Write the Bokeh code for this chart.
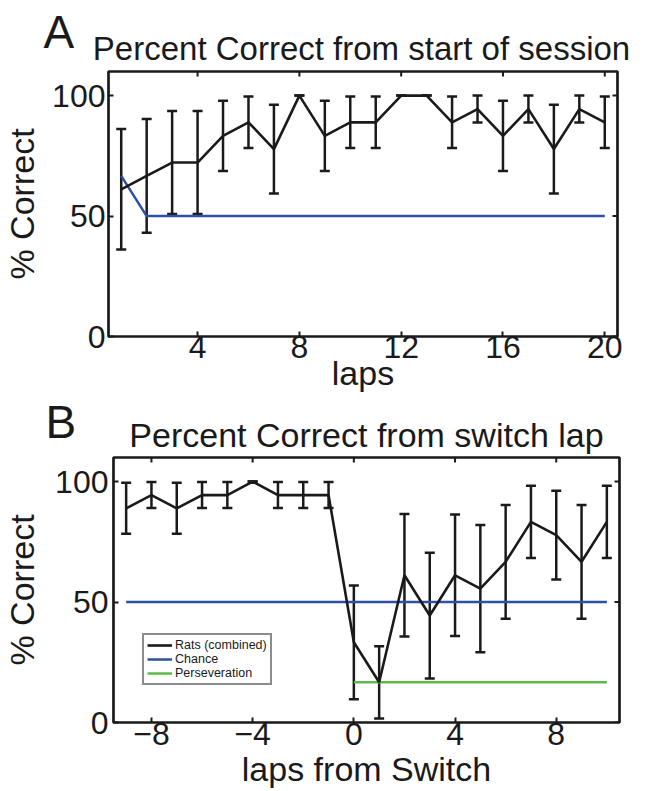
import math
from bokeh.plotting import figure
from bokeh.models import (ColumnDataSource, Whisker, TeeHead, FixedTicker,
                          Range1d, Legend, LegendItem)
from bokeh.core.properties import value
from bokeh.layouts import column
from bokeh.embed import file_html
from bokeh.resources import INLINE

FONT = "Liberation Sans"
INK = "#1a1a1a"

# ---------------- Panel A data ----------------
title_a = "Percent Correct from start of session"
laps_a = [1, 2, 3, 4, 5, 6, 7, 8, 9, 10, 11, 12, 13, 14, 15, 16, 17, 18, 19, 20]
pct_a = [61.1, 66.7, 72.2, 72.2, 83.3, 88.9, 77.8, 100.0, 83.3, 88.9,
         88.9, 100.0, 100.0, 88.9, 94.4, 83.3, 94.4, 77.8, 94.4, 88.9]
sem_a = [25.0, 23.6, 21.4, 21.4, 14.6, 10.7, 18.4, 0.0, 14.6, 10.7,
         10.7, 0.0, 0.0, 10.7, 5.6, 14.6, 5.6, 18.4, 5.6, 10.7]
chance_a = [66.7, 50, 50, 50, 50, 50, 50, 50, 50, 50,
            50, 50, 50, 50, 50, 50, 50, 50, 50, 50]
xticks_a = [4, 8, 12, 16, 20]
yticks = [0, 50, 100]

# ---------------- Panel B data ----------------
title_b = "Percent Correct from switch lap"
laps_b = [-9, -8, -7, -6, -5, -4, -3, -2, -1, 0, 1, 2, 3, 4, 5, 6, 7, 8, 9, 10]
pct_b = [88.9, 94.4, 88.9, 94.4, 94.4, 100.0, 94.4, 94.4, 94.4, 33.3,
         16.7, 61.1, 44.4, 61.1, 55.6, 66.7, 83.3, 77.8, 66.7, 83.3]
sem_b = [10.6, 5.4, 10.6, 5.4, 5.4, 0.0, 5.4, 5.4, 5.4, 23.6,
         15.0, 25.4, 26.1, 25.2, 26.4, 23.6, 15.0, 18.4, 23.6, 15.0]
chance_b = [50, 50, 50, 50, 50, 50, 50, 50, 50, 50,
            50, 50, 50, 50, 50, 50, 50, 50, 50, 50]
persev_x = [0, 1, 2, 3, 4, 5, 6, 7, 8, 9, 10]
persev_b = [16.7, 16.7, 16.7, 16.7, 16.7, 16.7, 16.7, 16.7, 16.7, 16.7, 16.7]
xticks_b = [-8, -4, 0, 4, 8]
xtick_labels_b = ["\u22128", "\u22124", "0", "4", "8"]
legend_labels = ["Rats (combined)", "Chance", "Perseveration"]

BLUE = "#2E4FA8"
GREEN = "#5CBB48"


def header(height, letter, letter_x, letter_y, title, title_x, title_y, title_size):
    h = figure(frame_width=636, frame_height=height, x_range=Range1d(0, 636),
               y_range=Range1d(0, height), output_backend="svg", toolbar_location=None,
               min_border=0, x_axis_location=None, y_axis_location=None, title=None,
               frame_align=False)
    h.outline_line_color = None
    h.grid.visible = False
    h.text(x=[letter_x], y=[letter_y], text=[letter], text_font=value(FONT),
           text_font_size="46px", text_color=INK, text_baseline="alphabetic", text_align="left")
    h.text(x=[title_x], y=[title_y], text=[title], text_font=value(FONT),
           text_font_size=title_size, text_color=INK, text_baseline="alphabetic",
           text_align="center")
    return h


def panel(xr, xticks, xlabel, frame_w, mb_left, mb_right, mb_bottom, ylab_standoff,
          tick_standoff_y, tick_standoff_x, xlab_standoff, xlabels=None):
    p = figure(frame_width=frame_w, frame_height=265, x_range=Range1d(*xr), y_range=Range1d(0, 110),
               output_backend="svg", toolbar_location=None, title=None, frame_align=False,
               min_border_left=mb_left, min_border_right=mb_right,
               min_border_top=3, min_border_bottom=mb_bottom)
    p.grid.visible = False
    p.outline_line_color = INK
    p.outline_line_width = 2.7

    for ax in p.xaxis:
        ax.ticker = FixedTicker(ticks=xticks)
        if xlabels is not None:
            ax.major_label_overrides = {t: l for t, l in zip(xticks, xlabels)}
        ax.axis_label = xlabel
        ax.major_label_standoff = tick_standoff_x
        ax.axis_label_standoff = xlab_standoff
    for ax in p.yaxis:
        ax.ticker = FixedTicker(ticks=yticks)
        ax.axis_label = "% Correct"
        ax.axis_label_standoff = ylab_standoff
        ax.major_label_standoff = tick_standoff_y
    for ax in list(p.xaxis) + list(p.yaxis):
        ax.axis_line_color = None
        ax.major_tick_in = 5
        ax.major_tick_out = 0
        ax.major_tick_line_width = 2
        ax.major_tick_line_color = INK
        ax.minor_tick_line_color = None
        ax.major_label_text_font = FONT
        ax.major_label_text_font_size = "32px"
        ax.major_label_text_color = INK
        ax.axis_label_text_font = FONT
        ax.axis_label_text_font_size = "34px"
        ax.axis_label_text_font_style = "normal"
        ax.axis_label_text_color = INK

    # mirrored inward ticks on the top and right edges (MATLAB box)
    top_y = p.y_range.end
    right_x = p.x_range.end
    p.ray(x=xticks, y=[top_y] * len(xticks), length=5, length_units="screen",
          angle=-math.pi / 2, line_color=INK, line_width=2)
    p.ray(x=[right_x] * len(yticks), y=yticks, length=5, length_units="screen",
          angle=math.pi, line_color=INK, line_width=2)
    return p


def add_errorbars(p, xs, ys, es):
    src = ColumnDataSource(dict(x=xs, upper=[y + e for y, e in zip(ys, es)],
                                lower=[y - e for y, e in zip(ys, es)]))
    w = Whisker(base="x", upper="upper", lower="lower", source=src,
                line_color=INK, line_width=2.5,
                upper_head=TeeHead(size=10, line_color=INK, line_width=2.5),
                lower_head=TeeHead(size=10, line_color=INK, line_width=2.5))
    p.add_layout(w)


# ---------------- Panel A ----------------
hA = header(68, "A", 43, 37, title_a, 361, 20, "33px")
pA = panel((0.5, 20.5), xticks_a, "laps", frame_w=509, mb_left=104, mb_right=23, mb_bottom=57,
           ylab_standoff=8, tick_standoff_y=3, tick_standoff_x=-1, xlab_standoff=-7)
pA.line(laps_a, chance_a, line_color=BLUE, line_width=2.5)
add_errorbars(pA, laps_a, pct_a, sem_a)
pA.line(laps_a, pct_a, line_color=INK, line_width=2.6)

# ---------------- Panel B ----------------
hB = header(60, "B", 45, 33, title_b, 366, 20, "34px")
pB = panel((-9.5, 10.5), xticks_b, "laps from Switch", frame_w=506, mb_left=109, mb_right=21,
           mb_bottom=66, ylab_standoff=11, tick_standoff_y=5, tick_standoff_x=0, xlab_standoff=2,
           xlabels=xtick_labels_b)
r_chance = pB.line(laps_b, chance_b, line_color=BLUE, line_width=2.5)
r_pers = pB.line(persev_x, persev_b, line_color=GREEN, line_width=2.5)
add_errorbars(pB, laps_b, pct_b, sem_b)
r_rats = pB.line(laps_b, pct_b, line_color=INK, line_width=2.6)

legend = Legend(items=[LegendItem(label=legend_labels[0], renderers=[r_rats]),
                       LegendItem(label=legend_labels[1], renderers=[r_chance]),
                       LegendItem(label=legend_labels[2], renderers=[r_pers])],
                location=(29, 37), orientation="vertical",
                border_line_color=INK, border_line_width=2.5,
                background_fill_color="white", background_fill_alpha=1.0,
                label_text_font=FONT, label_text_font_size="12.5px", label_text_color=INK,
                glyph_width=25, glyph_height=14, label_height=14, label_standoff=3,
                spacing=0, padding=3, margin=0)
pB.add_layout(legend, "center")

layout = column(hA, pA, hB, pB, spacing=0)
open("out.html", "w").write(file_html(layout, INLINE))
